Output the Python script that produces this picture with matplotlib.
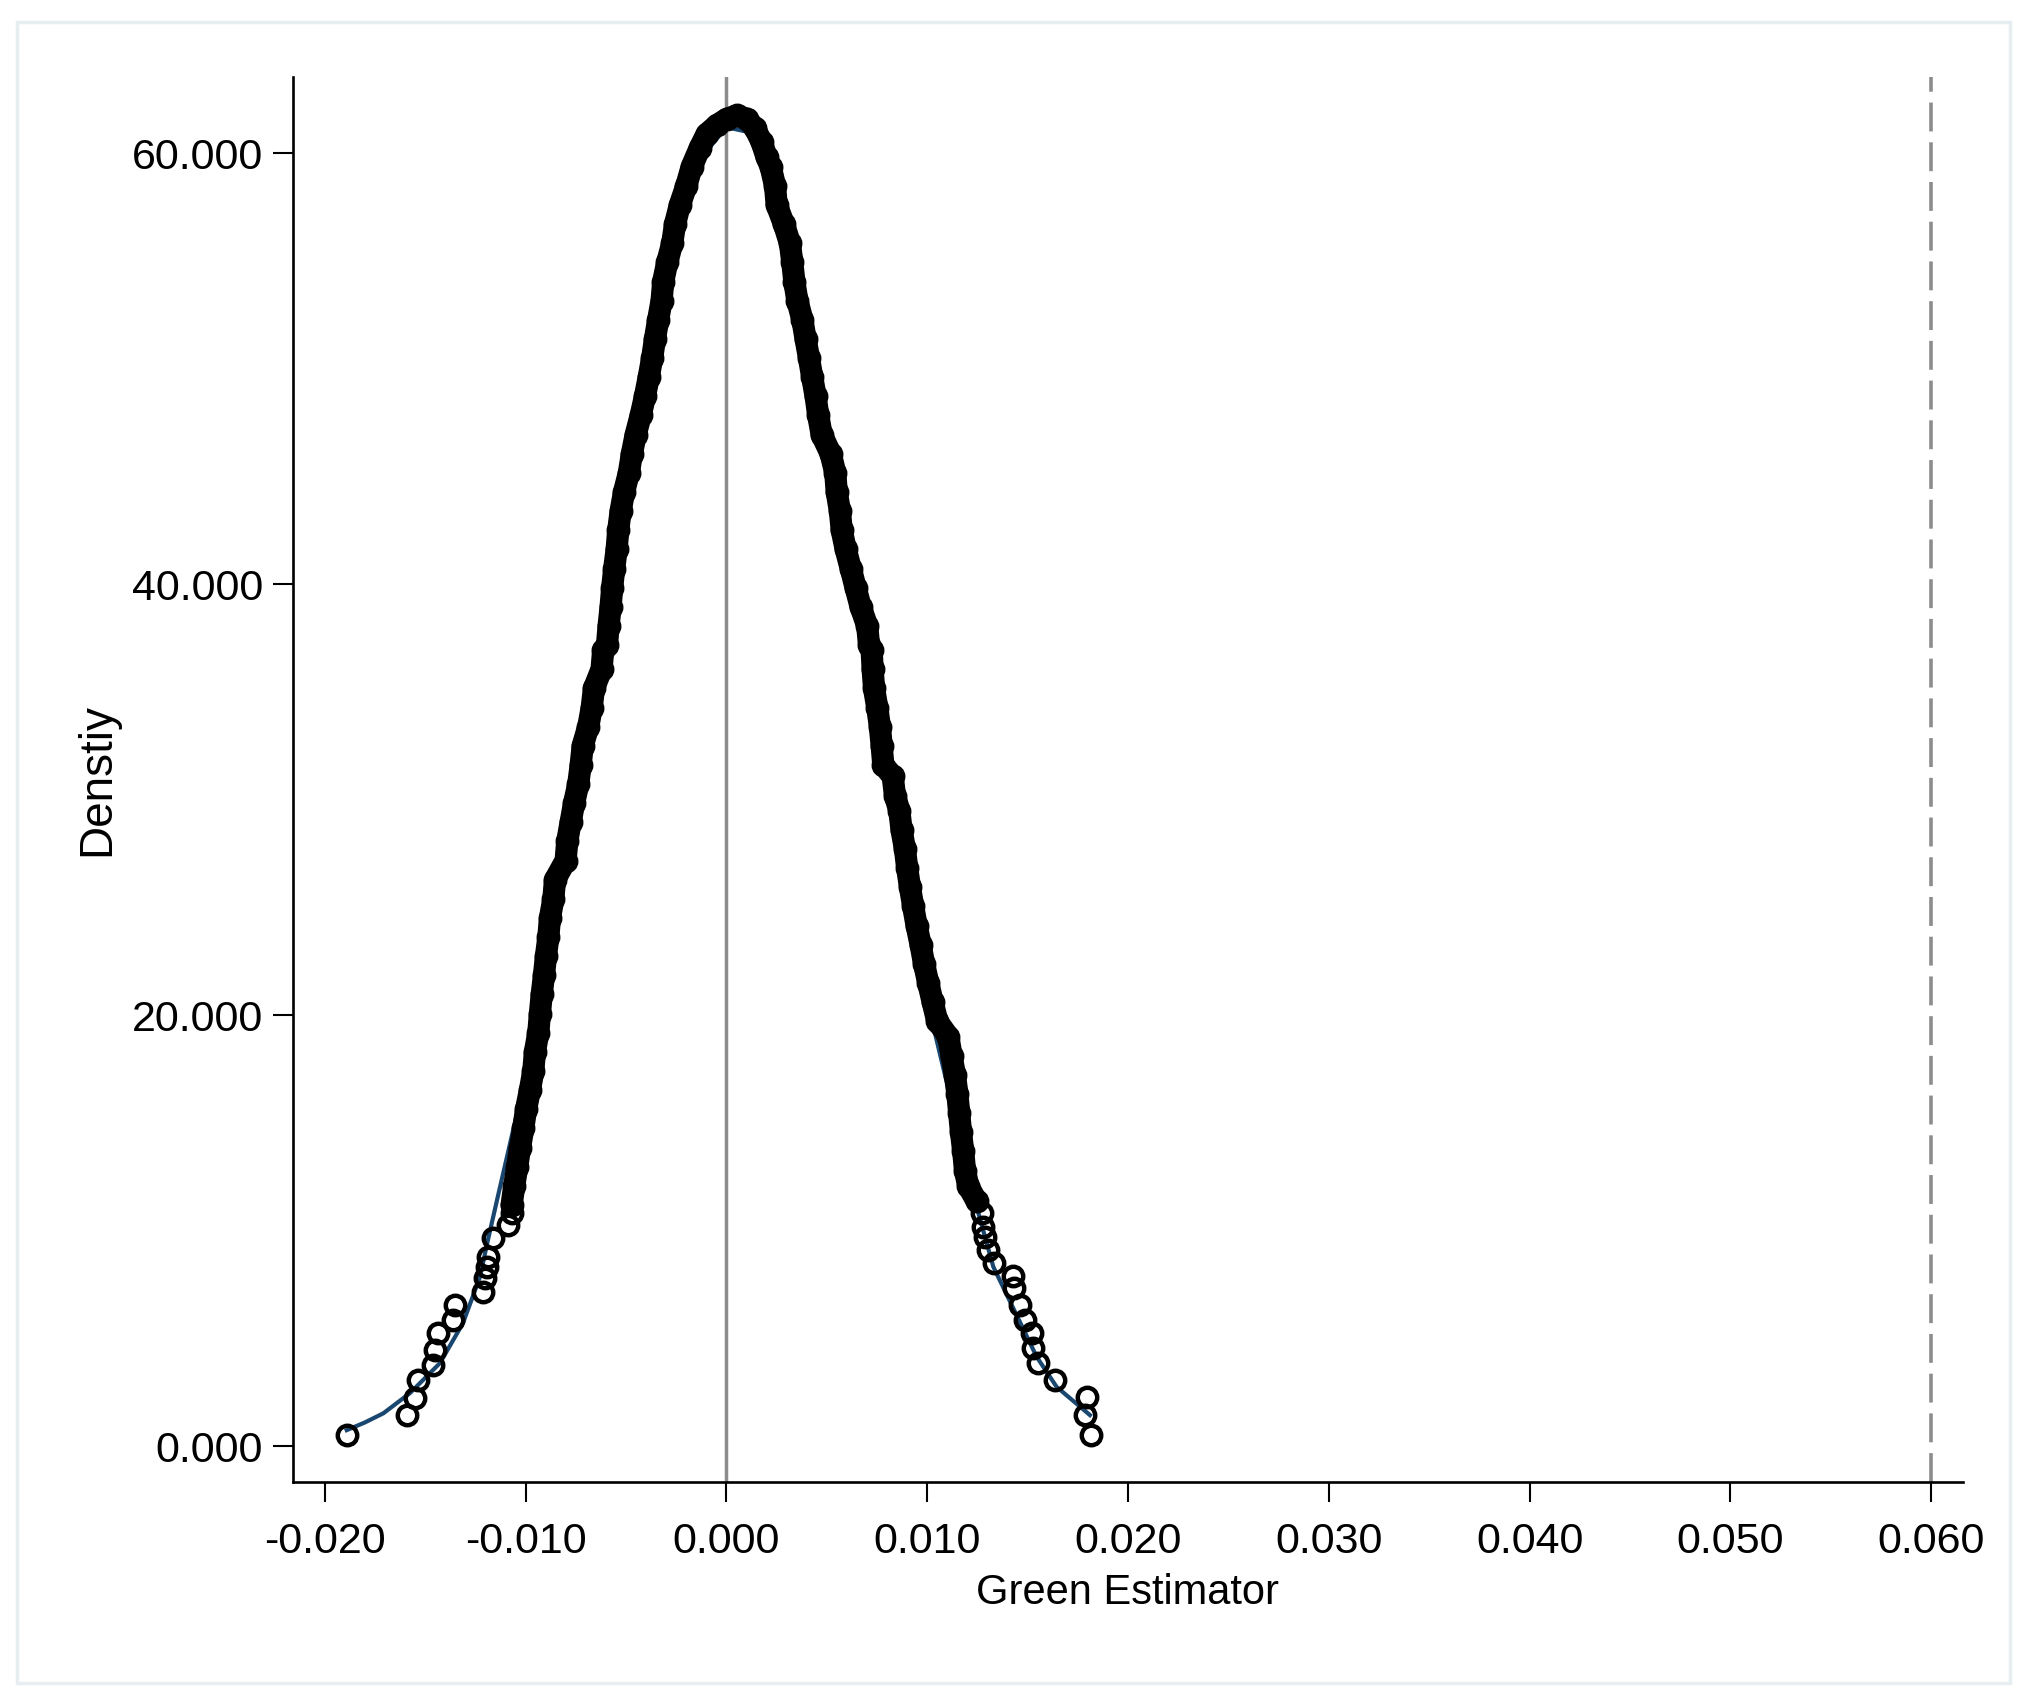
import numpy as np
import matplotlib.pyplot as plt
from matplotlib.patches import Rectangle

plt.rcParams['axes.unicode_minus'] = False

# placebo estimates: dense band, left side (bottom -> top)
left_x = [-0.01070, -0.01057, -0.01042, -0.01028, -0.01012, -0.00998, -0.00979, -0.00962,
          -0.00954, -0.00937, -0.00929, -0.00920, -0.00909, -0.00899, -0.00887, -0.00879,
          -0.00862, -0.00854, -0.00801, -0.00793, -0.00776, -0.00759, -0.00738, -0.00726,
          -0.00716, -0.00688, -0.00671, -0.00660, -0.00622, -0.00614,
          -0.00595, -0.00587, -0.00577, -0.00569, -0.00559, -0.00547, -0.00539, -0.00527,
          -0.00510, -0.00486, -0.00471, -0.00452, -0.00427, -0.00406, -0.00387, -0.00370,
          -0.00356, -0.00340, -0.00323, -0.00315, -0.00295, -0.00270, -0.00256, -0.00232,
          -0.00200, -0.00173, -0.00132]
left_y = [11.19, 12.07, 12.96, 13.85, 14.74, 15.63, 16.51, 17.40, 18.29, 19.18, 20.07, 20.96,
          21.84, 22.73, 23.62, 24.51, 25.39, 26.28, 27.17, 28.06, 28.95, 29.83, 30.72, 31.61,
          32.50, 33.39, 34.27, 35.16, 36.05, 36.94,
          37.17, 38.06, 38.95, 39.84, 40.72, 41.61, 42.50, 43.39, 44.28, 45.16, 46.05, 46.94,
          47.83, 48.71, 49.61, 50.49, 51.38, 52.27, 53.16, 54.04, 54.93, 55.82, 56.71, 57.60,
          58.48, 59.37, 60.26]

# crest
peak_x = [-0.00099, -0.00049, 0.00001, 0.00051, 0.00101, 0.00142, 0.00175, 0.00200]
peak_y = [60.88, 61.29, 61.59, 61.75, 61.59, 61.15, 60.52, 59.81]

# right side (top -> bottom)
right_x = [0.00220, 0.00242, 0.00250, 0.00286, 0.00316, 0.00328, 0.00338, 0.00353, 0.00378,
           0.00394, 0.00411, 0.00427, 0.00444, 0.00457, 0.00474, 0.00519, 0.00542, 0.00549,
           0.00565, 0.00574, 0.00594, 0.00619, 0.00643, 0.00668, 0.00701, 0.00710,
           0.00723, 0.00728, 0.00735, 0.00751, 0.00764, 0.00773, 0.00781, 0.00828, 0.00839,
           0.00861, 0.00872, 0.00889, 0.00900, 0.00914, 0.00930, 0.00947, 0.00967, 0.00984,
           0.01005, 0.01027, 0.01050, 0.01105, 0.01121, 0.01138, 0.01150, 0.01159, 0.01168,
           0.01179, 0.01188, 0.01204, 0.01246]
right_y = [59.37, 58.48, 57.60, 56.71, 55.82, 54.93, 54.04, 53.16, 52.27, 51.38, 50.49, 49.61,
           48.71, 47.83, 46.94, 46.05, 45.16, 44.28, 43.39, 42.50, 41.61, 40.72, 39.84, 38.95,
           38.06, 37.17,
           36.94, 36.05, 35.16, 34.27, 33.39, 32.50, 31.61, 31.08, 30.19, 29.48, 28.59, 27.70,
           26.82, 25.93, 25.04, 24.15, 23.26, 22.38, 21.49, 20.60, 19.71, 19.00, 18.11, 17.22,
           16.34, 15.45, 14.56, 13.68, 12.78, 12.07, 11.36]

# sparse tails
ltail_x = [-0.01070, -0.01087, -0.01161, -0.01186, -0.01194, -0.01203, -0.01211, -0.01352,
           -0.01361, -0.01435, -0.01452, -0.01460, -0.01535, -0.01551, -0.01593, -0.01889]
ltail_y = [10.80, 10.26, 9.64, 8.78, 8.32, 7.78, 7.16, 6.54, 5.85, 5.23, 4.45, 3.76, 3.06,
           2.21, 1.44, 0.51]
rtail_x = [0.01271, 0.01279, 0.01287, 0.01304, 0.01332, 0.01428, 0.01432, 0.01462, 0.01487,
           0.01520, 0.01528, 0.01553, 0.01636, 0.01794, 0.01785, 0.01814]
rtail_y = [10.80, 10.18, 9.71, 9.10, 8.48, 7.89, 7.32, 6.54, 5.85, 5.23, 4.53, 3.84, 3.06,
           2.29, 1.44, 0.51]

# fitted density (blue)
fit_x = [-0.01891, -0.01800, -0.01709, -0.01576, -0.01427, -0.01312, -0.01228, -0.01187,
         -0.01143, -0.01028, -0.0090, -0.0080, -0.0070, -0.0060, -0.0050, -0.0040, -0.0030,
         -0.0020, -0.0010, 0.0, 0.0010, 0.0020, 0.0030, 0.0040, 0.0050, 0.0060, 0.0070,
         0.0080, 0.0090, 0.01043, 0.01246, 0.01329, 0.01545, 0.01644, 0.01810]
fit_y = [0.74, 1.10, 1.52, 2.46, 3.85, 5.71, 7.84, 9.60, 11.40, 16.05, 22.0, 27.0, 32.5,
         38.3, 44.0, 49.3, 54.0, 57.6, 60.1, 61.2, 61.0, 59.3, 56.3, 52.2, 47.3, 41.8, 36.1,
         30.4, 25.1, 18.98, 11.10, 8.32, 4.14, 2.75, 1.44]

xticks = [-0.02, -0.01, 0.0, 0.01, 0.02, 0.03, 0.04, 0.05, 0.06]
yticks = [0, 20, 40, 60]
true_effect = 0.060

sans = ['Liberation Sans', 'DejaVu Sans']

fig = plt.figure(figsize=(20.3, 17.01), dpi=100)
fig.patches.append(Rectangle((0.0084, 0.0106), 0.9818, 0.9765, transform=fig.transFigure,
                             fill=False, edgecolor='#e6eef2', lw=2.5))
ax = fig.add_axes([0.1443, 0.1287, 0.8227, 0.826])

ax.axvline(0, color='#8c8c8c', lw=2.5, zorder=1)
ax.axvline(true_effect, color='#8c8c8c', lw=2.6, dashes=(8, 3.0), zorder=1)

ax.plot(fit_x, fit_y, color='#1a476f', lw=3, zorder=2)

band_x = left_x + peak_x + right_x
band_y = left_y + peak_y + right_y
ax.plot(band_x, band_y, color='black', lw=16, solid_joinstyle='round',
        solid_capstyle='round', zorder=3)
for xs, ys in [(band_x, band_y), (ltail_x, ltail_y), (rtail_x, rtail_y)]:
    ax.plot(xs, ys, 'o', ms=14, mfc='none', mec='black', mew=3.2, zorder=4)

ax.set_xlim(-0.02159, 0.06158)
ax.set_ylim(-1.67, 63.53)
ax.set_xticks(xticks)
ax.set_yticks(yticks)
ax.set_xticklabels(['%.3f' % v for v in xticks], family=sans, fontsize=31)
ax.set_yticklabels(['%.3f' % v for v in yticks], family=sans, fontsize=31)
ax.tick_params(axis='both', length=14.4, width=1.5, color='black')
ax.tick_params(axis='x', pad=14)
ax.tick_params(axis='y', pad=7)

for s in ['top', 'right']:
    ax.spines[s].set_visible(False)
for s in ['left', 'bottom']:
    ax.spines[s].set_linewidth(1.9)

ax.set_xlabel('Green Estimator', family=sans, fontsize=30)
ax.set_ylabel('Denstiy', family=sans, fontsize=33)
ax.xaxis.set_label_coords(0.5, -0.0648)
ax.yaxis.set_label_coords(-0.1042, 0.5)

fig.savefig('out.png', dpi=100, facecolor='white')
